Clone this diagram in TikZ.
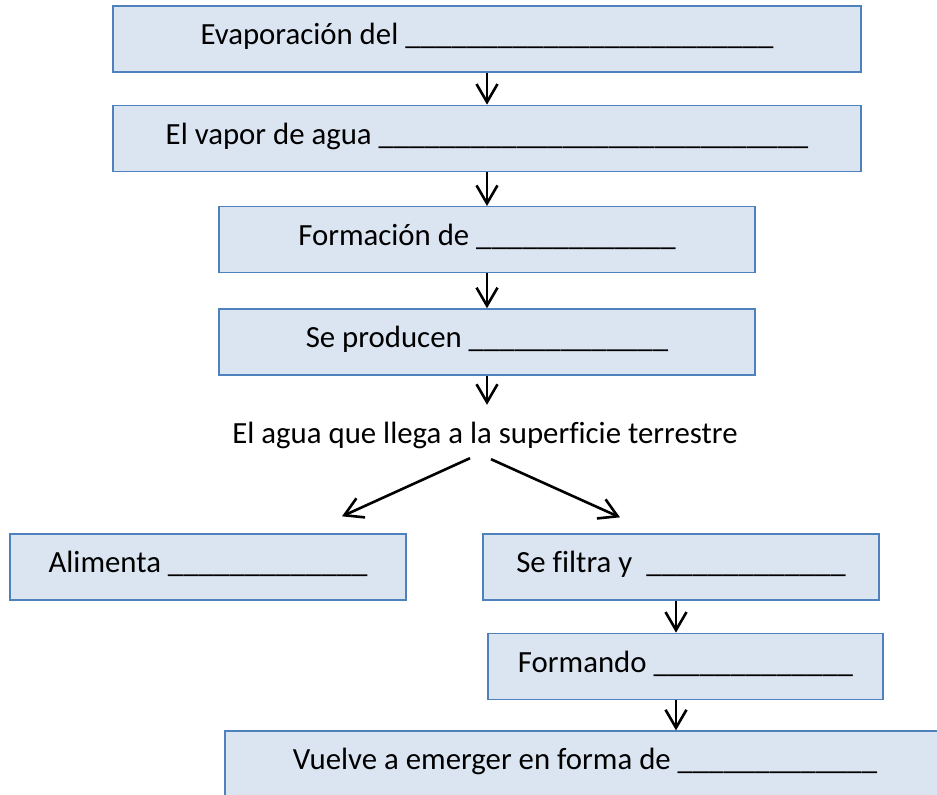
\documentclass[tikz,border=0pt]{standalone}
\usepackage{fontspec}
\setmainfont[Ligatures=NoCommon]{Carlito}
\usepackage{xcolor}
\usepackage{tikz}
\usetikzlibrary{arrows.meta, positioning, calc}
\definecolor{cajaborde}{HTML}{4F81BD}
\definecolor{cajafondo}{HTML}{DBE5F1}
\newcommand{\linea}[1]{\foreach \i in {1,...,#1}{\_}}

\begin{document}
\begin{tikzpicture}[
			x=1pt, y=1pt,
			node distance=33pt and 0pt,
			every node/.style={font=\fontsize{30.8}{37}\selectfont, text height=20pt, text depth=8pt},
			caja/.style={draw=cajaborde, fill=cajafondo, line width=1.3pt, rectangle, align=center, minimum height=66pt, inner sep=0pt},
			arrow/.style={-{Straight Barb[length=18pt, width=21pt]}, line width=2.6pt}
			]
			\useasboundingbox (0,0) rectangle (937,795);
			\clip (0,0) rectangle (937,795);
			
			% Nodes
			\node (evaporacion) [caja, minimum width=748pt] at (487,756) {Evaporación del \linea{24}};
			\node (vapor) [caja, minimum width=748pt, below=32pt of evaporacion] {El vapor de agua \linea{28}};
			\node (formacion) [caja, minimum width=536pt, below=34pt of vapor] {Formación de \linea{13}};
			\node (producen) [caja, minimum width=536pt, below=35pt of formacion] {Se producen \linea{13}};
			\node (agua) [inner sep=0pt] at (485,357) {El agua que llega a la superficie terrestre};
			\node (alimenta) [caja, minimum width=396pt] at (208,228) {Alimenta \linea{13}};
			\node (filtra) [caja, minimum width=396pt] at (681,228) {Se filtra y\ \ \linea{13}};
			\node (formando) [caja, minimum width=395pt, below=32pt of filtra, xshift=4.5pt] {Formando \linea{13}};
			\node (emerge) [caja, minimum width=720pt] at (585,31) {Vuelve a emerger en forma de \linea{13}};
			
			% Connections
			\draw [arrow] (evaporacion) -- (vapor);
			\draw [arrow] (vapor) -- (formacion);
			\draw [arrow] (formacion) -- (producen);
			\draw [arrow, shorten >=19pt] (producen.south) -- (producen.south |- agua.north);
			\draw [arrow] ($(agua.south)+(-15,-6)$) -- ($(alimenta.north)+(134,17)$);
			\draw [arrow] ($(agua.south)+(6,-7)$) -- ($(filtra.north)+(-61,16)$);
			\draw [arrow] ([xshift=-5pt]filtra.south) -- ([xshift=-9.5pt]formando.north);
			\draw [arrow] ([xshift=-9.5pt]formando.south) -- ([xshift=91pt]emerge.north);
			
		\end{tikzpicture}
\end{document}
